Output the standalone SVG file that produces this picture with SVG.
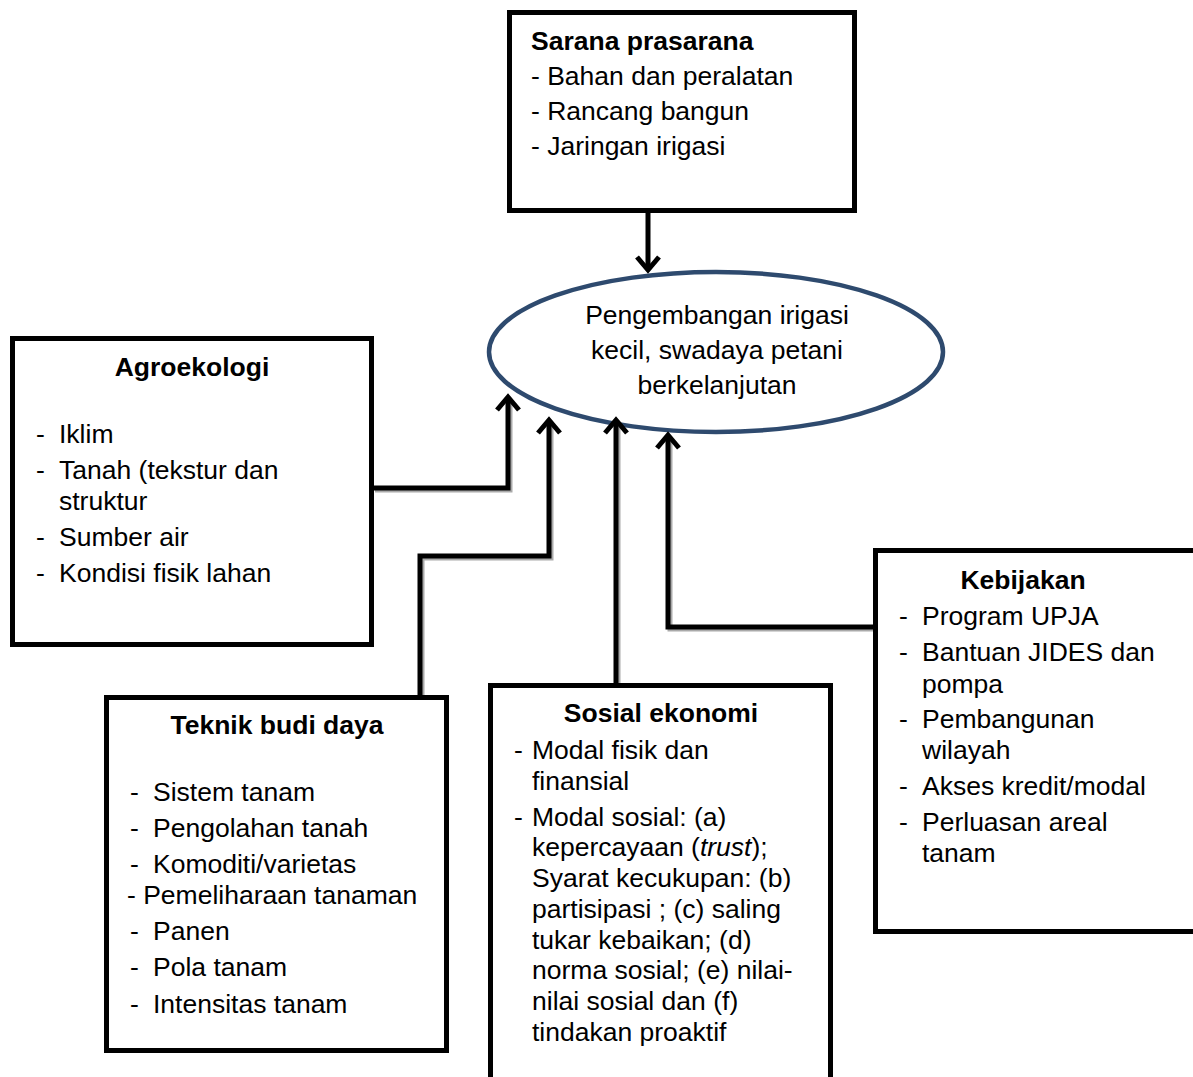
<svg xmlns="http://www.w3.org/2000/svg" width="1193" height="1077" viewBox="0 0 1193 1077">
<style>
  text { font-family: "Liberation Sans", Arial, sans-serif; font-size: 26.5px; fill: #000; }
  .t { font-weight: bold; text-anchor: middle; }
  .c { text-anchor: middle; }
  .box { fill: #fff; stroke: #000; stroke-width: 5; }
  .ln { fill: none; stroke: #000; stroke-width: 5; }
  .sh { fill: none; stroke: #aaa; stroke-width: 5; }
</style>
<defs>
  <marker id="ah" markerUnits="userSpaceOnUse" markerWidth="40" markerHeight="40" refX="0" refY="0" orient="auto" viewBox="-20 -20 40 40" overflow="visible">
    <path d="M-13,-11 L0,0 L-13,11" fill="none" stroke="#000" stroke-width="5"/>
  </marker>
</defs>
<rect width="1193" height="1077" fill="#fff"/>

<g id="sarana">
  <rect class="box" x="509.5" y="12.5" width="345" height="198"/>
  <text x="531" y="50" style="font-weight:bold">Sarana prasarana</text>
  <text x="531" y="85">- Bahan dan peralatan</text>
  <text x="531" y="120">- Rancang bangun</text>
  <text x="531" y="155">- Jaringan irigasi</text>
</g>

<g id="center">
  <ellipse cx="716" cy="352" rx="227" ry="80" fill="#fff" stroke="#2E4A6E" stroke-width="4.5"/>
  <text class="c" x="717" y="324">Pengembangan irigasi</text>
  <text class="c" x="717" y="359">kecil, swadaya petani</text>
  <text class="c" x="717" y="394">berkelanjutan</text>
</g>

<g id="agroekologi">
  <rect class="box" x="12.5" y="338.5" width="359" height="306"/>
  <text class="t" x="192" y="376">Agroekologi</text>
  <text x="36" y="443">-</text><text x="59" y="443">Iklim</text>
  <text x="36" y="479">-</text><text x="59" y="479">Tanah (tekstur dan</text>
  <text x="59" y="510">struktur</text>
  <text x="36" y="546">-</text><text x="59" y="546">Sumber air</text>
  <text x="36" y="582">-</text><text x="59" y="582">Kondisi fisik lahan</text>
</g>

<g id="teknik">
  <rect class="box" x="106.5" y="697.5" width="340" height="353"/>
  <text class="t" x="277" y="734">Teknik budi daya</text>
  <text x="130" y="801">-</text><text x="153" y="801">Sistem tanam</text>
  <text x="130" y="837">-</text><text x="153" y="837">Pengolahan tanah</text>
  <text x="130" y="873">-</text><text x="153" y="873">Komoditi/varietas</text>
  <text x="127" y="904">- Pemeliharaan tanaman</text>
  <text x="130" y="940">-</text><text x="153" y="940">Panen</text>
  <text x="130" y="976">-</text><text x="153" y="976">Pola tanam</text>
  <text x="130" y="1013">-</text><text x="153" y="1013">Intensitas tanam</text>
</g>

<g id="sosial">
  <rect class="box" x="490.5" y="685.5" width="340" height="420"/>
  <text class="t" x="661" y="722">Sosial ekonomi</text>
  <text x="514" y="759">-</text><text x="532" y="759">Modal fisik dan</text>
  <text x="532" y="790">finansial</text>
  <text x="514" y="826">-</text><text x="532" y="826">Modal sosial: (a)</text>
  <text x="532" y="856">kepercayaan (<tspan font-style="italic">trust</tspan>);</text>
  <text x="532" y="887">Syarat kecukupan: (b)</text>
  <text x="532" y="918">partisipasi ; (c) saling</text>
  <text x="532" y="949">tukar kebaikan; (d)</text>
  <text x="532" y="979">norma sosial; (e) nilai-</text>
  <text x="532" y="1010">nilai sosial dan (f)</text>
  <text x="532" y="1041">tindakan proaktif</text>
</g>

<g id="kebijakan">
  <rect class="box" x="875.5" y="550.5" width="330" height="381"/>
  <text class="t" x="1023" y="589">Kebijakan</text>
  <text x="899" y="625">-</text><text x="922" y="625">Program UPJA</text>
  <text x="899" y="661">-</text><text x="922" y="661">Bantuan JIDES dan</text>
  <text x="922" y="693">pompa</text>
  <text x="899" y="728">-</text><text x="922" y="728">Pembangunan</text>
  <text x="922" y="759">wilayah</text>
  <text x="899" y="795">-</text><text x="922" y="795">Akses kredit/modal</text>
  <text x="899" y="831">-</text><text x="922" y="831">Perluasan areal</text>
  <text x="922" y="862">tanam</text>
</g>

<g id="connectors">
  <path class="sh" d="M375,490 H510 V400"/>
  <path class="sh" d="M422,695 V558 H551 V422"/>
  <path class="sh" d="M618,683 V424"/>
  <path class="sh" d="M873,629 H670 V437"/>
  <path class="ln" d="M648,212 V270" marker-end="url(#ah)"/>
  <path class="ln" d="M373,488 H508 V397" marker-end="url(#ah)"/>
  <path class="ln" d="M420,695 V556 H549 V420" marker-end="url(#ah)"/>
  <path class="ln" d="M616,683 V420" marker-end="url(#ah)"/>
  <path class="ln" d="M873,627 H668 V435" marker-end="url(#ah)"/>
</g>
</svg>
